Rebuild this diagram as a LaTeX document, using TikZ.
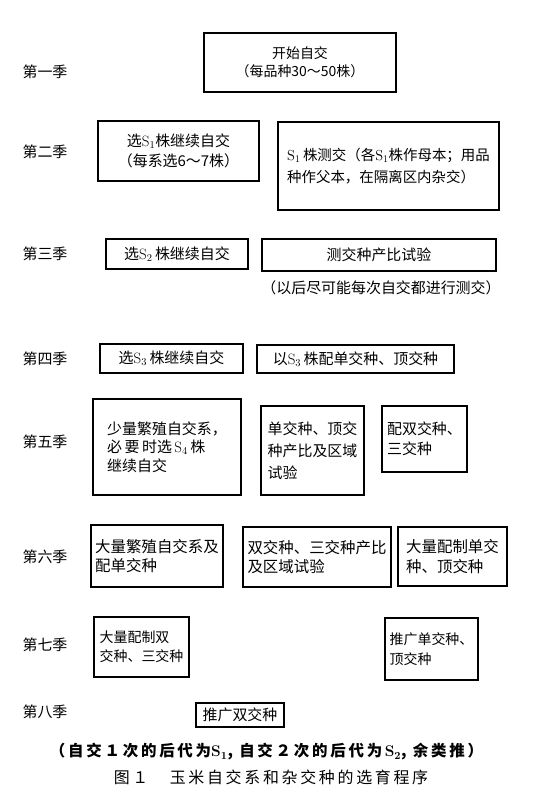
\documentclass[tikz,border=0pt]{standalone}
\usepackage{fontspec}
\newfontfamily\cjk{Noto Sans CJK SC}
\newfontfamily\cjkcap[LetterSpace=18]{Noto Sans CJK SC}
\newfontfamily\cjkcapw[LetterSpace=17]{Noto Sans CJK SC}
\newcommand\Sx[1]{{\rmfamily S}\textsubscript{\rmfamily #1}}
\begin{document}
\begin{tikzpicture}[x=1bp,y=-1bp,
  box/.style={draw, line width=1.6bp, inner sep=0pt, align=center,
    font=\cjk\fontsize{15}{20}\selectfont},
  lbox/.style={box, align=left},
  season/.style={font=\cjk\fontsize{15}{18}\selectfont},
  note/.style={font=\cjk\fontsize{15}{18}\selectfont}]
\useasboundingbox (0,0) rectangle (559,800);
% season labels
\node[season] (s1) at (45,72) {第一季};
\node[season] (s2) at (45,152) {第二季};
\node[season] (s3) at (45,254) {第三季};
\node[season] (s4) at (45,359) {第四季};
\node[season] (s5) at (45,442) {第五季};
\node[season] (s6) at (45,557) {第六季};
\node[season] (s7) at (45,645) {第七季};
\node[season] (s8) at (45,712) {第八季};
% season 1
\node[box, minimum width=192bp, minimum height=59bp,
  font=\cjk\fontsize{14}{18}\selectfont] (b1) at (300,62.5)
  {开始自交\\（每品种30～50株）};
% season 2
\node[box, minimum width=161bp, minimum height=60bp] (b2a) at (178.5,151)
  {选\Sx{1}株继续自交\\（每系选6～7株）};
\node[lbox, minimum width=221bp, minimum height=88bp,
  font=\cjk\fontsize{14.5}{22}\selectfont] (b2b) at (388.5,166)
  {\Sx{1}\,株测交（各\Sx{1}株作母本；用品\\种作父本，在隔离区内杂交）};
% season 3
\node[box, minimum width=142bp, minimum height=30bp] (b3a) at (177,254)
  {选\Sx{2}\,株继续自交};
\node[box, minimum width=234bp, minimum height=32bp] (b3b) at (379,255)
  {测交种产比试验};
\node[note] (n3) at (381,288) {（以后尽可能每次自交都进行测交）};
% season 4
\node[box, minimum width=143bp, minimum height=29bp] (b4a) at (171.5,358.5)
  {选\Sx{3}\,株继续自交};
\node[box, minimum width=197bp, minimum height=28bp] (b4b) at (355.5,359)
  {以\Sx{3}\,株配单交种、顶交种};
% season 5
\node[lbox, minimum width=148bp, minimum height=96bp,
  font=\cjk\fontsize{15}{18.5}\selectfont] (b5a) at (167,447)
  {少量繁殖自交系，\\必\,要\,时选\,\Sx{4}\,株\\继续自交};
\node[lbox, minimum width=103bp, minimum height=89bp,
  font=\cjk\fontsize{15}{22}\selectfont] (b5b) at (312.5,450.5)
  {单交种、顶交\\种产比及区域\\试验};
\node[lbox, minimum width=85bp, minimum height=66bp] (b5c) at (424.5,439)
  {配双交种、\\三交种};
% season 6
\node[lbox, minimum width=132bp, minimum height=62bp,
  font=\cjk\fontsize{15.5}{19}\selectfont] (b6a) at (157,556)
  {大量繁殖自交系及\\配单交种};
\node[lbox, minimum width=148bp, minimum height=60bp,
  font=\cjk\fontsize{15.5}{19}\selectfont] (b6b) at (317,557)
  {双交种、三交种产比\\及区域试验};
\node[lbox, minimum width=109bp, minimum height=59bp,
  font=\cjk\fontsize{15.5}{20}\selectfont] (b6c) at (452.5,556.5)
  {大量配制单交\\种、顶交种};
% season 7
\node[lbox, minimum width=95bp, minimum height=60bp,
  font=\cjk\fontsize{14}{19}\selectfont] (b7a) at (141.5,647)
  {大量配制双\\交种、三交种};
\node[lbox, minimum width=93bp, minimum height=62bp,
  font=\cjk\fontsize{14}{20}\selectfont] (b7b) at (431.5,649)
  {推广单交种、\\顶交种};
% season 8
\node[box, minimum width=88bp, minimum height=24bp] (b8) at (240,715)
  {推广双交种};
% captions
\node[font=\cjkcap\bfseries\fontsize{15.5}{18}\selectfont] (c1) at (266.5,752)
  {（自交１次的后代为\Sx{1}, 自交２次的后代为\,\Sx{2}, 余类推）};
\node[font=\cjkcapw\fontsize{16}{18}\selectfont] (c2) at (271,777)
  {图１　玉米自交系和杂交种的选育程序};
\end{tikzpicture}
\end{document}
